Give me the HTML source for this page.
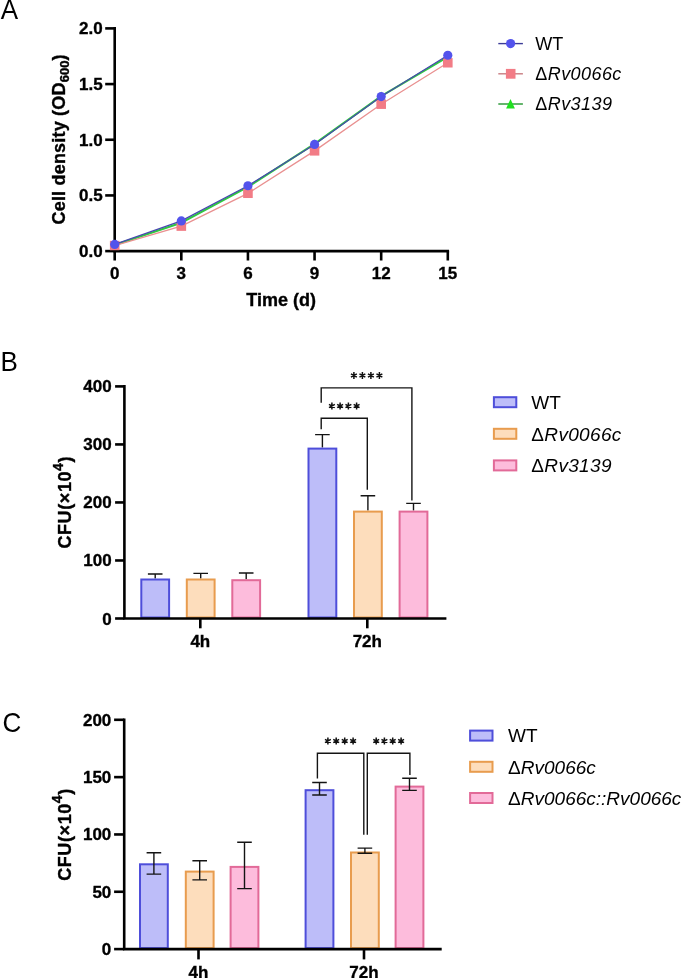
<!DOCTYPE html>
<html><head><meta charset="utf-8"><style>
html,body{margin:0;padding:0;background:#fff;width:683px;height:978px;overflow:hidden}
svg{display:block;will-change:transform}
text{fill:#000}
text[font-weight=bold]{stroke:#000;stroke-width:0.35px}
</style></head><body>
<svg width="683" height="978" viewBox="0 0 683 978">
<text transform="translate(0.7 18.6) scale(0.93 1)" font-size="28" font-family='"Liberation Sans", sans-serif'>A</text>
<path d="M114.7 28.4 V251.1 H447.8" fill="none" stroke="#000" stroke-width="2.6" stroke-linecap="square"/>
<line x1="105.2" y1="251.10" x2="114.7" y2="251.10" stroke="#000" stroke-width="2.6"/>
<text x="102.6" y="257.10" text-anchor="end" font-size="17" font-weight="bold" font-family='"Liberation Sans", sans-serif'>0.0</text>
<line x1="105.2" y1="195.43" x2="114.7" y2="195.43" stroke="#000" stroke-width="2.6"/>
<text x="102.6" y="201.43" text-anchor="end" font-size="17" font-weight="bold" font-family='"Liberation Sans", sans-serif'>0.5</text>
<line x1="105.2" y1="139.75" x2="114.7" y2="139.75" stroke="#000" stroke-width="2.6"/>
<text x="102.6" y="145.75" text-anchor="end" font-size="17" font-weight="bold" font-family='"Liberation Sans", sans-serif'>1.0</text>
<line x1="105.2" y1="84.08" x2="114.7" y2="84.08" stroke="#000" stroke-width="2.6"/>
<text x="102.6" y="90.08" text-anchor="end" font-size="17" font-weight="bold" font-family='"Liberation Sans", sans-serif'>1.5</text>
<line x1="105.2" y1="28.40" x2="114.7" y2="28.40" stroke="#000" stroke-width="2.6"/>
<text x="102.6" y="34.40" text-anchor="end" font-size="17" font-weight="bold" font-family='"Liberation Sans", sans-serif'>2.0</text>
<line x1="114.70" y1="251.1" x2="114.70" y2="260.5" stroke="#000" stroke-width="2.6"/>
<text x="114.70" y="278.8" text-anchor="middle" font-size="17" font-weight="bold" font-family='"Liberation Sans", sans-serif'>0</text>
<line x1="181.32" y1="251.1" x2="181.32" y2="260.5" stroke="#000" stroke-width="2.6"/>
<text x="181.32" y="278.8" text-anchor="middle" font-size="17" font-weight="bold" font-family='"Liberation Sans", sans-serif'>3</text>
<line x1="247.94" y1="251.1" x2="247.94" y2="260.5" stroke="#000" stroke-width="2.6"/>
<text x="247.94" y="278.8" text-anchor="middle" font-size="17" font-weight="bold" font-family='"Liberation Sans", sans-serif'>6</text>
<line x1="314.56" y1="251.1" x2="314.56" y2="260.5" stroke="#000" stroke-width="2.6"/>
<text x="314.56" y="278.8" text-anchor="middle" font-size="17" font-weight="bold" font-family='"Liberation Sans", sans-serif'>9</text>
<line x1="381.18" y1="251.1" x2="381.18" y2="260.5" stroke="#000" stroke-width="2.6"/>
<text x="381.18" y="278.8" text-anchor="middle" font-size="17" font-weight="bold" font-family='"Liberation Sans", sans-serif'>12</text>
<line x1="447.80" y1="251.1" x2="447.80" y2="260.5" stroke="#000" stroke-width="2.6"/>
<text x="447.80" y="278.8" text-anchor="middle" font-size="17" font-weight="bold" font-family='"Liberation Sans", sans-serif'>15</text>
<text x="281.2" y="306" text-anchor="middle" font-size="18" font-weight="bold" font-family='"Liberation Sans", sans-serif'>Time (d)</text>
<text transform="translate(65 139.45) rotate(-90)" text-anchor="middle" font-size="18" font-weight="bold" letter-spacing="0.2" font-family='"Liberation Sans", sans-serif'>Cell density (OD<tspan font-size="13" dy="4" letter-spacing="0">600</tspan><tspan dy="-4">)</tspan></text>
<polyline points="114.70,244.98 181.32,222.71 247.94,186.96 314.56,143.87 381.18,96.21 447.80,56.79" fill="none" stroke="#30C840" stroke-width="2.0"/>
<path d="M114.70 240.38 L118.90 248.38 L110.50 248.38Z" fill="#20E020"/>
<path d="M181.32 218.11 L185.52 226.11 L177.12 226.11Z" fill="#20E020"/>
<path d="M247.94 182.36 L252.14 190.36 L243.74 190.36Z" fill="#20E020"/>
<path d="M314.56 139.27 L318.76 147.27 L310.36 147.27Z" fill="#20E020"/>
<path d="M381.18 91.61 L385.38 99.61 L376.98 99.61Z" fill="#20E020"/>
<path d="M447.80 52.19 L452.00 60.19 L443.60 60.19Z" fill="#20E020"/>
<polyline points="114.70,245.53 181.32,226.16 247.94,193.31 314.56,150.88 381.18,104.23 447.80,62.81" fill="none" stroke="#E99090" stroke-width="1.3"/>
<rect x="109.90" y="240.83" width="9.6" height="9.4" fill="#F27C86"/>
<rect x="176.52" y="221.46" width="9.6" height="9.4" fill="#F27C86"/>
<rect x="243.14" y="188.61" width="9.6" height="9.4" fill="#F27C86"/>
<rect x="309.76" y="146.19" width="9.6" height="9.4" fill="#F27C86"/>
<rect x="376.38" y="99.53" width="9.6" height="9.4" fill="#F27C86"/>
<rect x="443.00" y="58.11" width="9.6" height="9.4" fill="#F27C86"/>
<polyline points="114.70,244.42 181.32,220.92 247.94,185.74 314.56,144.43 381.18,96.55 447.80,55.24" fill="none" stroke="#4848B0" stroke-width="1.3"/>
<circle cx="114.70" cy="244.42" r="4.6" fill="#5353EC"/>
<circle cx="181.32" cy="220.92" r="4.6" fill="#5353EC"/>
<circle cx="247.94" cy="185.74" r="4.6" fill="#5353EC"/>
<circle cx="314.56" cy="144.43" r="4.6" fill="#5353EC"/>
<circle cx="381.18" cy="96.55" r="4.6" fill="#5353EC"/>
<circle cx="447.80" cy="55.24" r="4.6" fill="#5353EC"/>
<line x1="498.3" y1="43.6" x2="522.9" y2="43.6" stroke="#3C3C98" stroke-width="1.4"/>
<circle cx="510.6" cy="43.6" r="4.6" fill="#5353EC"/>
<text x="535.3" y="49.9" font-size="18" font-family='"Liberation Sans", sans-serif'>WT</text>
<line x1="498.3" y1="73.8" x2="522.9" y2="73.8" stroke="#C87C80" stroke-width="1.4"/>
<rect x="505.9" y="68.89999999999999" width="9.6" height="9.8" fill="#F27C86"/>
<text x="535.3" y="80.1" font-size="18" letter-spacing="0.42" font-family='"Liberation Sans", sans-serif'>Δ<tspan font-style="italic">Rv0066c</tspan></text>
<line x1="498.3" y1="104.0" x2="522.9" y2="104.0" stroke="#22952E" stroke-width="1.4"/>
<path d="M510.5 99.0 L514.9 108.5 L506.1 108.5Z" fill="#20E020"/>
<text x="535.3" y="110.3" font-size="18" letter-spacing="0.42" font-family='"Liberation Sans", sans-serif'>Δ<tspan font-style="italic">Rv3139</tspan></text>
<text transform="translate(0.6 370.7) scale(0.93 1)" font-size="28" font-family='"Liberation Sans", sans-serif'>B</text>
<path d="M155.20 574.00 V578.50 M147.90 574.00 H162.50" fill="none" stroke="#141414" stroke-width="1.4"/>
<rect x="141.30" y="579.50" width="27.80" height="38.00" fill="#BDBDF9" stroke="#4E4EDA" stroke-width="2.0"/>
<path d="M200.70 573.40 V578.50 M193.40 573.40 H208.00" fill="none" stroke="#141414" stroke-width="1.4"/>
<rect x="186.80" y="579.50" width="27.80" height="38.00" fill="#FDDDBC" stroke="#E89C4E" stroke-width="2.0"/>
<path d="M246.20 573.00 V579.20 M238.90 573.00 H253.50" fill="none" stroke="#141414" stroke-width="1.4"/>
<rect x="232.30" y="580.20" width="27.80" height="37.30" fill="#FDBCDC" stroke="#E26A98" stroke-width="2.0"/>
<path d="M322.40 434.60 V447.60 M315.10 434.60 H329.70" fill="none" stroke="#141414" stroke-width="1.4"/>
<rect x="308.50" y="448.60" width="27.80" height="168.90" fill="#BDBDF9" stroke="#4E4EDA" stroke-width="2.0"/>
<path d="M367.90 495.80 V510.60 M360.60 495.80 H375.20" fill="none" stroke="#141414" stroke-width="1.4"/>
<rect x="354.00" y="511.60" width="27.80" height="105.90" fill="#FDDDBC" stroke="#E89C4E" stroke-width="2.0"/>
<path d="M413.50 503.40 V510.60 M406.20 503.40 H420.80" fill="none" stroke="#141414" stroke-width="1.4"/>
<rect x="399.60" y="511.60" width="27.80" height="105.90" fill="#FDBCDC" stroke="#E26A98" stroke-width="2.0"/>
<path d="M124.4 386.4 V618.5 H445.1" fill="none" stroke="#000" stroke-width="2.6" stroke-linecap="square"/>
<line x1="115.1" y1="618.50" x2="124.4" y2="618.50" stroke="#000" stroke-width="2.6"/>
<text x="111.6" y="624.50" text-anchor="end" font-size="17" font-weight="bold" font-family='"Liberation Sans", sans-serif'>0</text>
<line x1="115.1" y1="560.48" x2="124.4" y2="560.48" stroke="#000" stroke-width="2.6"/>
<text x="111.6" y="566.48" text-anchor="end" font-size="17" font-weight="bold" font-family='"Liberation Sans", sans-serif'>100</text>
<line x1="115.1" y1="502.45" x2="124.4" y2="502.45" stroke="#000" stroke-width="2.6"/>
<text x="111.6" y="508.45" text-anchor="end" font-size="17" font-weight="bold" font-family='"Liberation Sans", sans-serif'>200</text>
<line x1="115.1" y1="444.43" x2="124.4" y2="444.43" stroke="#000" stroke-width="2.6"/>
<text x="111.6" y="450.43" text-anchor="end" font-size="17" font-weight="bold" font-family='"Liberation Sans", sans-serif'>300</text>
<line x1="115.1" y1="386.40" x2="124.4" y2="386.40" stroke="#000" stroke-width="2.6"/>
<text x="111.6" y="392.40" text-anchor="end" font-size="17" font-weight="bold" font-family='"Liberation Sans", sans-serif'>400</text>
<line x1="200.3" y1="618.5" x2="200.3" y2="628.3" stroke="#000" stroke-width="2.6"/>
<text x="200.3" y="647" text-anchor="middle" font-size="17" font-weight="bold" font-family='"Liberation Sans", sans-serif'>4h</text>
<line x1="367.3" y1="618.5" x2="367.3" y2="628.3" stroke="#000" stroke-width="2.6"/>
<text x="367.3" y="647" text-anchor="middle" font-size="17" font-weight="bold" font-family='"Liberation Sans", sans-serif'>72h</text>
<text transform="translate(71.0 502.25) rotate(-90)" text-anchor="middle" font-size="18" font-weight="bold" letter-spacing="0.6" font-family='"Liberation Sans", sans-serif'>CFU(×10<tspan font-size="14" dy="-8.5">4</tspan><tspan dy="8.5">)</tspan></text>
<path d="M321.2 402.8 V387.9 H411.9 V500.6" fill="none" stroke="#141414" stroke-width="1.4"/>
<path d="M321.2 429.2 V418.2 H367.3 V489.7" fill="none" stroke="#141414" stroke-width="1.4"/>
<path d="M353.90 372.10L353.90 378.90M350.96 373.80L356.84 377.20M356.84 373.80L350.96 377.20M362.40 372.10L362.40 378.90M359.46 373.80L365.34 377.20M365.34 373.80L359.46 377.20M370.90 372.10L370.90 378.90M367.96 373.80L373.84 377.20M373.84 373.80L367.96 377.20M379.40 372.10L379.40 378.90M376.46 373.80L382.34 377.20M382.34 373.80L376.46 377.20" stroke="#111" stroke-width="1.5" fill="none"/>
<path d="M331.90 402.60L331.90 409.40M328.96 404.30L334.84 407.70M334.84 404.30L328.96 407.70M340.10 402.60L340.10 409.40M337.16 404.30L343.04 407.70M343.04 404.30L337.16 407.70M348.40 402.60L348.40 409.40M345.46 404.30L351.34 407.70M351.34 404.30L345.46 407.70M356.60 402.60L356.60 409.40M353.66 404.30L359.54 407.70M359.54 404.30L353.66 407.70" stroke="#111" stroke-width="1.5" fill="none"/>
<rect x="493.9" y="397.2" width="22.4" height="10" fill="#BDBDF9" stroke="#4E4EDA" stroke-width="2"/>
<text x="531.3" y="409.0" font-size="19" font-family='"Liberation Sans", sans-serif'>WT</text>
<rect x="493.9" y="428.8" width="22.4" height="10" fill="#FDDDBC" stroke="#E89C4E" stroke-width="2"/>
<text x="531.3" y="440.6" font-size="19" letter-spacing="0.33" font-family='"Liberation Sans", sans-serif'>Δ<tspan font-style="italic">Rv0066c</tspan></text>
<rect x="493.9" y="460.4" width="22.4" height="10" fill="#FDBCDC" stroke="#E26A98" stroke-width="2"/>
<text x="531.3" y="472.2" font-size="19" letter-spacing="0.33" font-family='"Liberation Sans", sans-serif'>Δ<tspan font-style="italic">Rv3139</tspan></text>
<text transform="translate(2.5 731.8) scale(0.93 1)" font-size="28" font-family='"Liberation Sans", sans-serif'>C</text>
<rect x="140.00" y="864.30" width="27.80" height="83.80" fill="#BDBDF9" stroke="#4E4EDA" stroke-width="2.0"/>
<path d="M153.90 852.80 V874.10 M146.60 852.80 H161.20 M146.60 874.10 H161.20" fill="none" stroke="#141414" stroke-width="1.4"/>
<rect x="185.80" y="871.60" width="27.80" height="76.50" fill="#FDDDBC" stroke="#E89C4E" stroke-width="2.0"/>
<path d="M199.70 860.70 V879.90 M192.40 860.70 H207.00 M192.40 879.90 H207.00" fill="none" stroke="#141414" stroke-width="1.4"/>
<rect x="230.60" y="866.90" width="27.80" height="81.20" fill="#FDBCDC" stroke="#E26A98" stroke-width="2.0"/>
<path d="M244.50 842.20 V888.60 M237.20 842.20 H251.80 M237.20 888.60 H251.80" fill="none" stroke="#141414" stroke-width="1.4"/>
<rect x="305.60" y="790.20" width="27.80" height="157.90" fill="#BDBDF9" stroke="#4E4EDA" stroke-width="2.0"/>
<path d="M319.50 782.50 V795.00 M312.20 782.50 H326.80 M312.20 795.00 H326.80" fill="none" stroke="#141414" stroke-width="1.4"/>
<rect x="351.00" y="852.50" width="27.80" height="95.60" fill="#FDDDBC" stroke="#E89C4E" stroke-width="2.0"/>
<path d="M364.90 848.10 V853.20 M357.60 848.10 H372.20 M357.60 853.20 H372.20" fill="none" stroke="#141414" stroke-width="1.4"/>
<rect x="395.60" y="786.60" width="27.80" height="161.50" fill="#FDBCDC" stroke="#E26A98" stroke-width="2.0"/>
<path d="M409.50 778.30 V790.40 M402.20 778.30 H416.80 M402.20 790.40 H416.80" fill="none" stroke="#141414" stroke-width="1.4"/>
<path d="M124.2 719.8 V949.1 H440.4" fill="none" stroke="#000" stroke-width="2.6" stroke-linecap="square"/>
<line x1="114.1" y1="949.10" x2="124.2" y2="949.10" stroke="#000" stroke-width="2.6"/>
<text x="111.3" y="955.10" text-anchor="end" font-size="17" font-weight="bold" font-family='"Liberation Sans", sans-serif'>0</text>
<line x1="114.1" y1="891.77" x2="124.2" y2="891.77" stroke="#000" stroke-width="2.6"/>
<text x="111.3" y="897.77" text-anchor="end" font-size="17" font-weight="bold" font-family='"Liberation Sans", sans-serif'>50</text>
<line x1="114.1" y1="834.45" x2="124.2" y2="834.45" stroke="#000" stroke-width="2.6"/>
<text x="111.3" y="840.45" text-anchor="end" font-size="17" font-weight="bold" font-family='"Liberation Sans", sans-serif'>100</text>
<line x1="114.1" y1="777.12" x2="124.2" y2="777.12" stroke="#000" stroke-width="2.6"/>
<text x="111.3" y="783.12" text-anchor="end" font-size="17" font-weight="bold" font-family='"Liberation Sans", sans-serif'>150</text>
<line x1="114.1" y1="719.80" x2="124.2" y2="719.80" stroke="#000" stroke-width="2.6"/>
<text x="111.3" y="725.80" text-anchor="end" font-size="17" font-weight="bold" font-family='"Liberation Sans", sans-serif'>200</text>
<line x1="198.5" y1="949.1" x2="198.5" y2="959.4" stroke="#000" stroke-width="2.6"/>
<text x="198.5" y="977.5" text-anchor="middle" font-size="17" font-weight="bold" font-family='"Liberation Sans", sans-serif'>4h</text>
<line x1="364.0" y1="949.1" x2="364.0" y2="959.4" stroke="#000" stroke-width="2.6"/>
<text x="364.0" y="977.5" text-anchor="middle" font-size="17" font-weight="bold" font-family='"Liberation Sans", sans-serif'>72h</text>
<text transform="translate(70.8 834.5) rotate(-90)" text-anchor="middle" font-size="18" font-weight="bold" letter-spacing="0.6" font-family='"Liberation Sans", sans-serif'>CFU(×10<tspan font-size="14" dy="-8.5">4</tspan><tspan dy="8.5">)</tspan></text>
<path d="M317.4 778.6 V753.3 H363.8 V834.8" fill="none" stroke="#141414" stroke-width="1.4"/>
<path d="M367.3 834.8 V753.3 H409.9 V775" fill="none" stroke="#141414" stroke-width="1.4"/>
<path d="M327.90 737.60L327.90 744.40M324.96 739.30L330.84 742.70M330.84 739.30L324.96 742.70M336.20 737.60L336.20 744.40M333.26 739.30L339.14 742.70M339.14 739.30L333.26 742.70M344.70 737.60L344.70 744.40M341.76 739.30L347.64 742.70M347.64 739.30L341.76 742.70M353.10 737.60L353.10 744.40M350.16 739.30L356.04 742.70M356.04 739.30L350.16 742.70" stroke="#111" stroke-width="1.5" fill="none"/>
<path d="M376.20 737.60L376.20 744.40M373.26 739.30L379.14 742.70M379.14 739.30L373.26 742.70M384.40 737.60L384.40 744.40M381.46 739.30L387.34 742.70M387.34 739.30L381.46 742.70M392.70 737.60L392.70 744.40M389.76 739.30L395.64 742.70M395.64 739.30L389.76 742.70M401.10 737.60L401.10 744.40M398.16 739.30L404.04 742.70M404.04 739.30L398.16 742.70" stroke="#111" stroke-width="1.5" fill="none"/>
<rect x="470.1" y="730.6" width="22.4" height="10" fill="#BDBDF9" stroke="#4E4EDA" stroke-width="2"/>
<text x="508.1" y="742.4" font-size="19" font-family='"Liberation Sans", sans-serif'>WT</text>
<rect x="470.1" y="761.8000000000001" width="22.4" height="10" fill="#FDDDBC" stroke="#E89C4E" stroke-width="2"/>
<text x="508.1" y="773.6" font-size="19" font-family='"Liberation Sans", sans-serif'>Δ<tspan font-style="italic">Rv0066c</tspan></text>
<rect x="470.1" y="793.0" width="22.4" height="10" fill="#FDBCDC" stroke="#E26A98" stroke-width="2"/>
<text x="508.1" y="804.8" font-size="19" font-family='"Liberation Sans", sans-serif'>Δ<tspan font-style="italic">Rv0066c::Rv0066c</tspan></text>
</svg>
</body></html>
